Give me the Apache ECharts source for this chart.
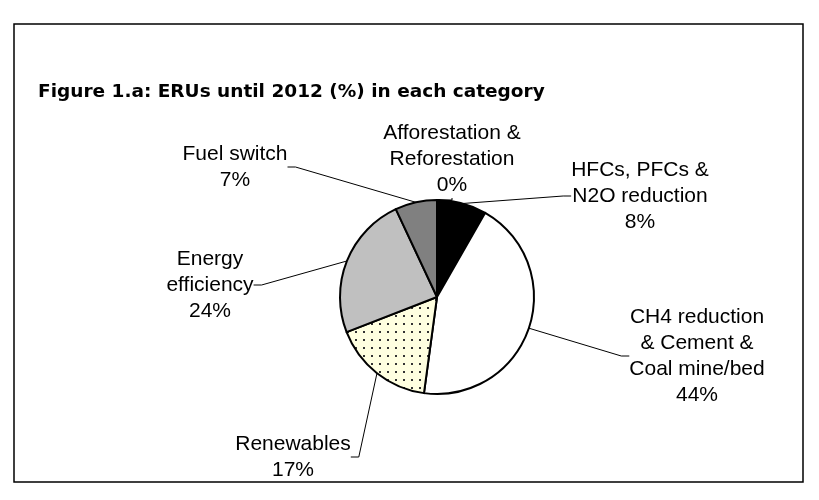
<!DOCTYPE html>
<html>
<head>
<meta charset="utf-8">
<script src="https://cdn.jsdelivr.net/npm/echarts@6/dist/echarts.min.js"></script>
<style>
html,body{margin:0;padding:0;background:#fff;}
#chart{width:819px;height:500px;}
</style>
</head>
<body>
<div id="chart"></div>
<script>
const titleText = 'Figure 1.a: ERUs until 2012 (%) in each category';
const categories = [
  'Afforestation &\nReforestation',
  'HFCs, PFCs &\nN2O reduction',
  'CH4 reduction\n& Cement &\nCoal mine/bed',
  'Renewables',
  'Energy\nefficiency',
  'Fuel switch'
];
const shares = [0.3, 8, 44, 17, 24, 7];

const labelSpots = [
  [452, 159], [640, 196], [697, 356], [293, 457], [210, 285], [235, 167]
];

const tile = document.createElement('canvas');
tile.width = 8; tile.height = 8;
const g = tile.getContext('2d');
g.fillStyle = '#ffffe0'; g.fillRect(0, 0, 8, 8);
g.fillStyle = '#333'; g.fillRect(3, 3, 2, 2);

const fills = ['#ffffff', '#000000', '#ffffff', {image: tile, repeat: 'repeat'}, '#c0c0c0', '#808080'];

const chart = echarts.init(document.getElementById('chart'), null, {renderer: 'canvas'});
chart.setOption({
  backgroundColor: '#ffffff',
  animation: false,
  title: {
    text: titleText,
    left: 33, top: 78,
    textStyle: {fontFamily: 'DejaVu Sans', fontWeight: 'bold', fontSize: 18.5, color: '#000'}
  },
  graphic: [{
    type: 'rect', shape: {x: 14, y: 24, width: 789, height: 458},
    style: {fill: null, stroke: '#000', lineWidth: 1.5}, silent: true
  }],
  series: [{
    type: 'pie',
    center: [437, 297],
    radius: 97,
    startAngle: 90,
    clockwise: true,
    percentPrecision: 0,
    avoidLabelOverlap: false,
    data: categories.map((n, i) => ({name: n, value: shares[i], itemStyle: {color: fills[i]}})),
    itemStyle: {borderColor: '#000', borderWidth: 2},
    label: {
      show: true,
      formatter: '{b}\n{d}%',
      fontFamily: 'Liberation Sans',
      fontSize: 21,
      lineHeight: 26,
      color: '#000',
      align: 'center'
    },
    labelLine: {show: true, length: 8, length2: 8, smooth: false, lineStyle: {color: '#000', width: 1}},
    labelLayout: function (p) {
      const s = labelSpots[p.dataIndex];
      return {x: s[0], y: s[1], align: 'center', verticalAlign: 'middle'};
    },
    emphasis: {disabled: true}
  }]
});
</script>
</body>
</html>
